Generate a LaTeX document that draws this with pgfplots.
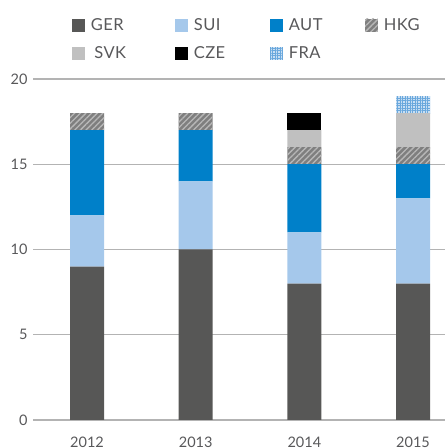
\documentclass[border=0pt]{standalone}
\usepackage{fontspec}
\setmainfont{Lato}
\usepackage{pgfplots}
\pgfplotsset{compat=1.18}
\usetikzlibrary{patterns.meta}
\definecolor{ger}{HTML}{575756}
\definecolor{sui}{HTML}{A5C8EB}
\definecolor{aut}{HTML}{0080C9}
\definecolor{hkg}{HTML}{7F7F7F}
\definecolor{hkgl}{HTML}{B8B8B8}
\definecolor{svk}{HTML}{C0C0C0}
\definecolor{cze}{HTML}{000000}
\definecolor{fra}{HTML}{C9DFF3}
\definecolor{fral}{HTML}{6AA8DD}
\definecolor{txt}{HTML}{58585A}
\definecolor{gridc}{HTML}{B3B3B3}
\newfontfamily\legfont[LetterSpace=3]{Lato}
\begin{document}
\begin{tikzpicture}
\begin{axis}[
  at={(33bp,28bp)}, anchor=south west,
  scale only axis, width=412bp, height=341bp,
  ybar stacked, bar width=34bp,
  xmin=-0.497, xmax=3.294, ymin=0, ymax=20,
  xtick={0,1,2,3}, xticklabels={2012,2013,2014,2015},
  ytick={0,5,10,15,20},
  ymajorgrids, grid style={gridc, line width=1.3bp},
  axis line style={draw=none},
  major tick length=0pt,
  /pgf/number format/assume math mode=true,
  tick label style={font=\fontsize{14.5bp}{16bp}\selectfont, text=txt},
  yticklabel style={xshift=-2bp},
  xticklabel style={yshift=-13bp},
  legend columns=4,
  legend style={at={(axis description cs:0.0947,1.178)}, anchor=north west,
    draw=none, fill=none, inner sep=0pt, row sep=15bp,
    font=\legfont\fontsize{16.5bp}{18bp}\selectfont, text=txt,
    nodes={inner sep=0pt, anchor=west},
    /tikz/every even column/.append style={column sep=0pt}},
  legend cell align=left,
  legend image code/.code={\path[#1,draw=none] (0bp,-6.3bp) rectangle (12.6bp,6.3bp);},
  every axis plot/.append style={draw=none},
]
\addplot[fill=ger] coordinates {(0,9) (1,10) (2,8) (3,8)};
\addlegendentry{\hspace{6bp}\makebox[84.4bp][l]{GER}}
\addplot[fill=sui] coordinates {(0,3) (1,4) (2,3) (3,5)};
\addlegendentry{\hspace{6bp}\makebox[76.4bp][l]{SUI}}
\addplot[fill=aut] coordinates {(0,5) (1,3) (2,4) (3,2)};
\addlegendentry{\hspace{6bp}\makebox[76.4bp][l]{AUT}}
\addplot[fill=hkg, postaction={pattern={Lines[angle=45,distance=4bp,line width=1.3bp]}, pattern color=hkgl}] coordinates {(0,1) (1,1) (2,1) (3,1)};
\addlegendentry{\hspace{6bp}HKG}
\addplot[fill=svk] coordinates {(0,0) (1,0) (2,1) (3,2)};
\addlegendentry{\hspace{9.5bp}\makebox[80.9bp][l]{SVK}}
\addplot[fill=cze] coordinates {(0,0) (1,0) (2,1) (3,0)};
\addlegendentry{\hspace{6bp}\makebox[76.4bp][l]{CZE}}
\addplot[fill=fra, postaction={pattern={Hatch[angle=0,distance=2.5bp,line width=0.8bp]}, pattern color=fral}] coordinates {(0,0) (1,0) (2,0) (3,1)};
\addlegendentry{\hspace{6bp}\makebox[76.4bp][l]{FRA}}
\end{axis}
\pgfresetboundingbox
\useasboundingbox (0,0) rectangle (445bp,448bp);
\end{tikzpicture}
\end{document}
